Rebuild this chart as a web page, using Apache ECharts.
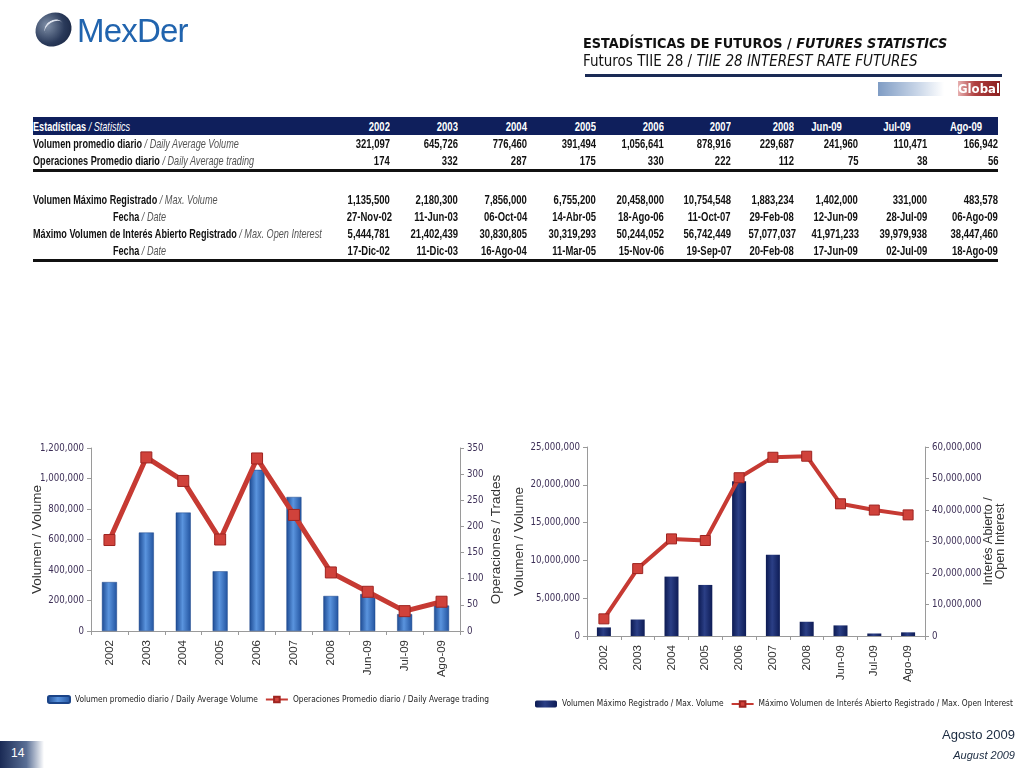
<!DOCTYPE html>
<html><head><meta charset="utf-8">
<script src="https://cdn.jsdelivr.net/npm/echarts@6/dist/echarts.min.js"></script>
<style>
html,body{margin:0;padding:0;background:#fff;width:1024px;height:768px;overflow:hidden;font-family:"Liberation Sans",Arial,sans-serif;}
#chart{position:absolute;left:0;top:0;width:1024px;height:768px;}
.abs{position:absolute;z-index:2;}
#tbl{position:absolute;left:33px;top:117px;border-collapse:collapse;table-layout:fixed;width:965px;font-family:"Liberation Sans",Arial,sans-serif;font-size:13px;z-index:2;color:#111;}
#tbl td{padding:0;white-space:nowrap;text-align:right;height:17px;line-height:17px;font-weight:bold;overflow:visible;}
#tbl td span{display:inline-block;transform:scaleX(0.73);transform-origin:right center;}
#tbl td.lbl{text-align:left;}
#tbl td.lbl span{transform:scaleX(0.7);transform-origin:left center;}
#tbl td.ind{padding-left:80px;}
#tbl i{font-weight:normal;color:#555;}
#tbl tr.hdr td{background:#0f1f5c;color:#fff;height:18px;}
#tbl tr.hdr i{color:#fff;}
#tbl tr.sep td{border-bottom:3px solid #111;}
#tbl tr.gap td{height:19px;}
.cond{font-family:"DejaVu Sans Condensed","Liberation Sans",sans-serif;}
</style></head>
<body>
<div id="chart"></div>
<!-- logo -->
<div class="abs" style="left:35px;top:13px;width:37px;height:33px;border-radius:50%;background:radial-gradient(ellipse at 40% 30%,#8090a8 0%,#2a3a5a 55%,#101c38 100%);transform:rotate(-30deg);"></div>
<div class="abs" style="left:44px;top:20px;width:20px;height:14px;border-top:2px solid #dfe4ee;border-radius:50% 50% 0 0;transform:rotate(-30deg);"></div>
<div class="abs" style="left:77px;top:12px;font-size:33px;color:#2164ae;font-family:'Liberation Sans',Arial,sans-serif;letter-spacing:-0.8px;">MexDer</div>
<!-- title -->
<div class="abs cond" style="left:583px;top:35px;font-weight:bold;color:#111;font-size:14.3px;">ESTADÍSTICAS DE FUTUROS / <i>FUTURES STATISTICS</i></div>
<div class="abs cond" style="left:583px;top:52px;font-size:15px;color:#111;">Futuros TIIE 28 / <i>TIIE 28 INTEREST RATE FUTURES</i></div>
<div class="abs" style="left:585px;top:74px;width:417px;height:3px;background:#1a2a55;"></div>
<div class="abs" style="left:878px;top:82px;width:66px;height:14px;background:linear-gradient(90deg,#7f9cc4,#c9d6e8 60%,#ffffff);"></div>
<div class="abs cond" style="left:958px;top:81px;width:42px;height:15px;background:linear-gradient(90deg,#e7b0b0,#b04040 40%,#8c2020);color:#fff;font-weight:bold;font-size:13px;line-height:15px;text-align:right;padding-right:2px;box-sizing:border-box;">Global</div>
<table id="tbl"></table>
<!-- footer -->
<div class="abs" style="left:0;top:741px;width:44px;height:27px;background:linear-gradient(90deg,#1a2a55,#5a6f95 60%,#ffffff);"></div>
<div class="abs" style="left:11px;top:746px;color:#fff;font-size:12px;">14</div>
<div class="abs" style="right:9px;top:727px;color:#1a2a40;font-size:13px;">Agosto 2009</div>
<div class="abs" style="right:9px;top:749px;color:#1a2a40;font-size:11px;font-style:italic;">August 2009</div>
<script>
// ===== DATA =====
var categories = ['2002','2003','2004','2005','2006','2007','2008','Jun-09','Jul-09','Ago-09'];
var avgVolume = [321097, 645726, 776460, 391494, 1056641, 878916, 229687, 241960, 110471, 166942];
var avgTrades = [174, 332, 287, 175, 330, 222, 112, 75, 38, 56];
var maxVolume = [1135500, 2180300, 7856000, 6755200, 20458000, 10754548, 1883234, 1402000, 331000, 483578];
var maxVolumeDate = ['27-Nov-02','11-Jun-03','06-Oct-04','14-Abr-05','18-Ago-06','11-Oct-07','29-Feb-08','12-Jun-09','28-Jul-09','06-Ago-09'];
var maxOpenInterest = [5444781, 21402439, 30830805, 30319293, 50244052, 56742449, 57077037, 41971233, 39979938, 38447460];
var maxOpenInterestDate = ['17-Dic-02','11-Dic-03','16-Ago-04','11-Mar-05','15-Nov-06','19-Sep-07','20-Feb-08','17-Jun-09','02-Jul-09','18-Ago-09'];
var leftVolTicks = [0, 1200000, 200000];
var leftTradeTicks = [0, 350, 50];
var rightVolTicks = [0, 25000000, 5000000];
var rightOITicks = [0, 60000000, 10000000];

function fmt(v){ return String(v).replace(/\B(?=(\d{3})+(?!\d))/g, ','); }

// ===== TABLE =====
(function(){
  var widths = [297,60,68,69,69,68,67,63,64,69,71];
  var t = document.getElementById('tbl');
  var h = '<colgroup>' + widths.map(function(w){return '<col style="width:'+w+'px">';}).join('') + '</colgroup>';
  h += '<tr class="hdr"><td class="lbl"><span>Estadísticas <i>/ Statistics</i></span></td>' + categories.map(function(c,i){return '<td style="padding-right:'+(i>=7?'16px':'0')+'"><span>'+c+'</span></td>';}).join('') + '</tr>';
  function row(label, vals, cls, lcls){
    return '<tr class="'+(cls||'')+'"><td class="lbl '+(lcls||'')+'"><span>'+label+'</span></td>' + vals.map(function(v){return '<td><span>'+v+'</span></td>';}).join('') + '</tr>';
  }
  h += row('Volumen promedio diario <i>/ Daily Average Volume</i>', avgVolume.map(fmt));
  h += row('Operaciones Promedio diario <i>/ Daily Average trading</i>', avgTrades.map(fmt), 'sep');
  h += '<tr class="gap"><td colspan="11"></td></tr>';
  h += row('Volumen Máximo Registrado <i>/ Max. Volume</i>', maxVolume.map(fmt));
  h += row('Fecha <i>/ Date</i>', maxVolumeDate, '', 'ind');
  h += row('Máximo Volumen de Interés Abierto Registrado <i>/ Max. Open Interest</i>', maxOpenInterest.map(fmt));
  h += row('Fecha <i>/ Date</i>', maxOpenInterestDate, 'sep', 'ind');
  t.innerHTML = h;
})();

// ===== CHARTS =====
var chart = echarts.init(document.getElementById('chart'), null, {renderer:'canvas'});
var labelColor = '#3d2f57';
var axisLineColor = '#9a9a9a';
function valAxis(grid, pos, t, name, gap, nameSize){
  return {
    type:'value', gridIndex:grid, position:pos, min:t[0], max:t[1], interval:t[2],
    name:name, nameLocation:'middle', nameGap:gap, nameRotate:90, nameMoveOverlap:false,
    nameTextStyle:{color:'#333', fontSize:nameSize || 13.5, fontFamily:'Liberation Sans, Arial', lineHeight:12},
    axisLine:{show:true, lineStyle:{color:axisLineColor}},
    axisTick:{show:true, length:4, lineStyle:{color:axisLineColor}},
    splitLine:{show:false},
    axisLabel:{color:labelColor, fontSize:9.6, fontFamily:'DejaVu Sans Condensed, Liberation Sans', margin:7, formatter:fmt}
  };
}
function catAxis(grid){
  return {
    type:'category', gridIndex:grid, data:categories, boundaryGap:true,
    axisLine:{lineStyle:{color:axisLineColor}},
    axisTick:{show:true, length:4, lineStyle:{color:axisLineColor}},
    axisLabel:{rotate:90, color:'#333', fontSize:11.5, margin:9, fontFamily:'Liberation Sans, Arial'}
  };
}
var blueBar = new echarts.graphic.LinearGradient(0,0,1,0,[
  {offset:0,color:'#1d4a92'},{offset:0.45,color:'#5a94de'},{offset:1,color:'#22539f'}]);
var navyBar = new echarts.graphic.LinearGradient(0,0,1,0,[
  {offset:0,color:'#0c1a52'},{offset:0.45,color:'#2b3f86'},{offset:1,color:'#0e1c56'}]);
var redLine = '#c63a33';
var legendText = {fontSize:8.3, color:'#222', fontFamily:'DejaVu Sans Condensed, Liberation Sans'};

var option = {
  animation:false,
  textStyle:{fontFamily:'Liberation Sans, Arial'},
  grid:[
    {left:91, top:448, width:369, height:183},
    {left:587, top:447, width:338, height:189}
  ],
  xAxis:[catAxis(0), catAxis(1)],
  yAxis:[
    valAxis(0,'left',leftVolTicks,'Volumen / Volume',48),
    valAxis(0,'right',leftTradeTicks,'Operaciones / Trades',30),
    valAxis(1,'left',rightVolTicks,'Volumen / Volume',62),
    valAxis(1,'right',rightOITicks,'Interés Abierto /\nOpen Interest',58,12.5)
  ],
  legend:[
    {left:42, top:690, itemGap:7, itemWidth:22, itemHeight:7, textStyle:legendText,
     data:['Volumen promedio diario / Daily Average Volume','Operaciones Promedio diario / Daily Average trading']},
    {left:530, top:695, itemGap:7, itemWidth:22, itemHeight:7, textStyle:legendText,
     data:['Volumen Máximo Registrado / Max. Volume','Máximo Volumen de Interés Abierto Registrado / Max. Open Interest']}
  ],
  series:[
    {name:'Volumen promedio diario / Daily Average Volume', type:'bar', xAxisIndex:0, yAxisIndex:0,
     data:avgVolume, barWidth:15, itemStyle:{color:blueBar, borderColor:'#1b4488', borderWidth:0.5}},
    {name:'Operaciones Promedio diario / Daily Average trading', type:'line', xAxisIndex:0, yAxisIndex:1,
     data:avgTrades, symbol:'rect', symbolSize:11, lineStyle:{width:5, color:redLine},
     itemStyle:{color:'#d0423b', borderColor:'#9e2420', borderWidth:1}},
    {name:'Volumen Máximo Registrado / Max. Volume', type:'bar', xAxisIndex:1, yAxisIndex:2,
     data:maxVolume, barWidth:14, itemStyle:{color:navyBar}},
    {name:'Máximo Volumen de Interés Abierto Registrado / Max. Open Interest', type:'line', xAxisIndex:1, yAxisIndex:3,
     data:maxOpenInterest, symbol:'rect', symbolSize:10, lineStyle:{width:4, color:redLine},
     itemStyle:{color:'#d0423b', borderColor:'#9e2420', borderWidth:1}}
  ]
};
chart.setOption(option);
</script>
</body></html>
